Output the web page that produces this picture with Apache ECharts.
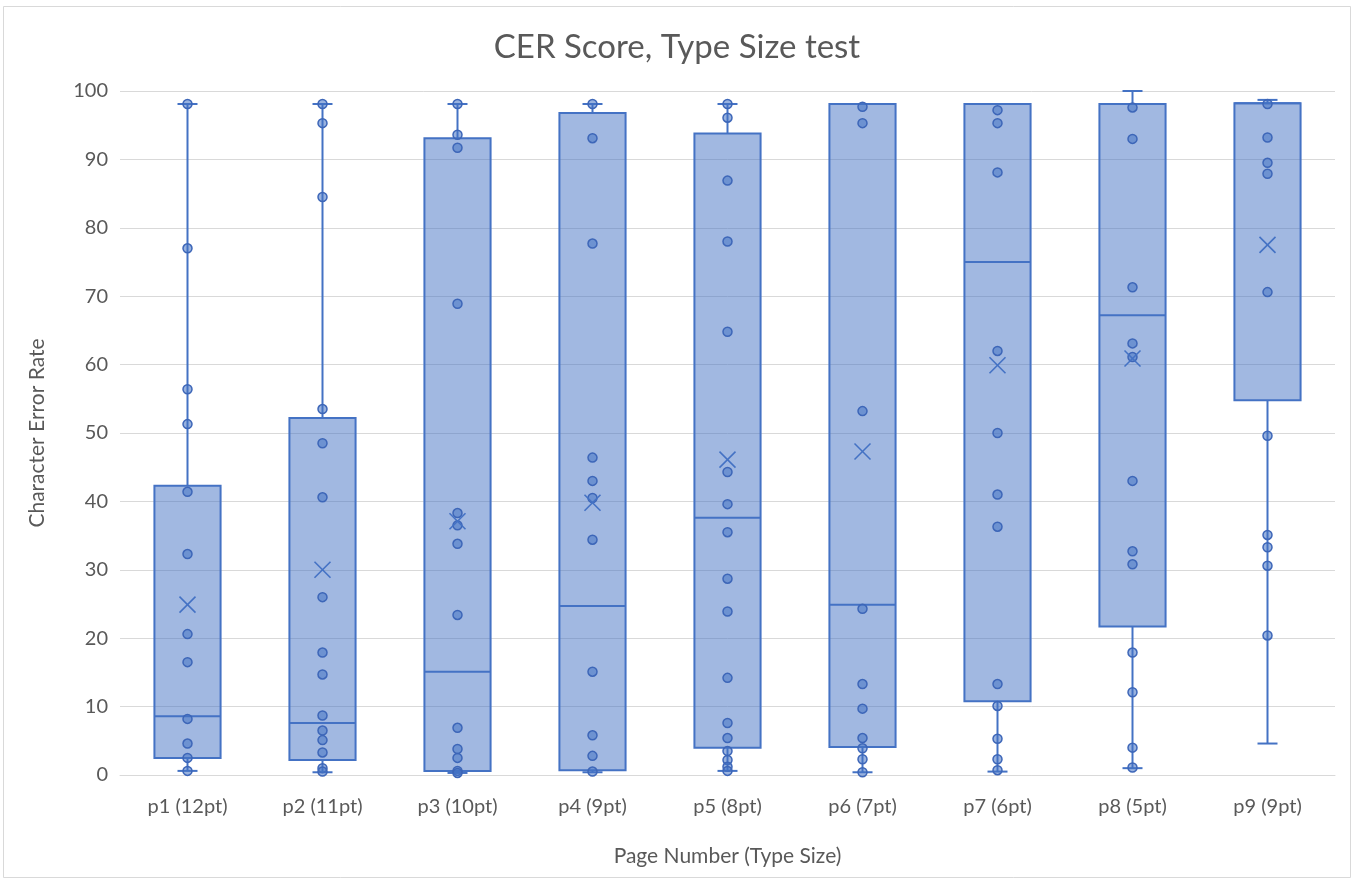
<!DOCTYPE html>
<html>
<head>
<meta charset="utf-8">
<title>CER Score, Type Size test</title>
<script src="https://cdn.jsdelivr.net/npm/echarts@6/dist/echarts.min.js"></script>
<style>
  html, body { margin: 0; padding: 0; background: #ffffff; }
  #chart { width: 1354px; height: 880px; }
</style>
</head>
<body>
<div id="chart"></div>
<script>
// Pages and their type sizes
const categories = ['p1 (12pt)', 'p2 (11pt)', 'p3 (10pt)', 'p4 (9pt)', 'p5 (8pt)', 'p6 (7pt)', 'p7 (6pt)', 'p8 (5pt)', 'p9 (9pt)'];

// Box-and-whisker statistics per page (character error rate, %)
const whiskerLow  = [0.6, 0.4, 0.3, 0.4, 0.6, 0.4, 0.5, 1.0, 4.6];
const quartile1   = [2.5, 2.2, 0.6, 0.7, 4.0, 4.1, 10.8, 21.7, 54.8];
const medians     = [8.6, 7.6, 15.1, 24.7, 37.6, 24.9, 75.0, 67.2, 98.2];
const quartile3   = [42.3, 52.2, 93.1, 96.8, 93.8, 98.1, 98.1, 98.1, 98.2];
const whiskerHigh = [98.1, 98.1, 98.1, 98.1, 98.1, 98.1, 98.1, 100.0, 98.7];
const means       = [24.9, 30.0, 37.1, 39.8, 46.1, 47.3, 59.9, 60.9, 77.5];

// Individual page scores
const p1Scores = [98.1, 77.0, 56.4, 51.3, 41.4, 32.3, 20.6, 16.5, 8.2, 4.6, 2.5, 0.6];
const p2Scores = [98.1, 95.3, 84.5, 53.5, 48.5, 40.6, 26.0, 17.9, 14.7, 8.7, 6.5, 5.1, 3.3, 1.0, 0.5];
const p3Scores = [98.1, 93.6, 91.7, 68.9, 38.3, 36.5, 33.8, 23.4, 6.9, 3.8, 2.5, 0.6, 0.3];
const p4Scores = [98.1, 93.1, 77.7, 46.4, 43.0, 40.5, 34.4, 15.1, 5.8, 2.8, 0.5];
const p5Scores = [98.1, 96.1, 86.9, 78.0, 64.8, 44.3, 39.6, 35.5, 28.7, 23.9, 14.2, 7.6, 5.4, 3.5, 2.2, 1.2, 0.6];
const p6Scores = [97.7, 95.3, 53.2, 24.3, 13.3, 9.7, 5.4, 3.9, 2.3, 0.4];
const p7Scores = [97.2, 95.3, 88.1, 62.0, 50.0, 41.0, 36.3, 13.3, 10.1, 5.3, 2.3, 0.7];
const p8Scores = [97.6, 93.0, 71.3, 63.1, 61.1, 43.0, 32.7, 30.8, 17.9, 12.1, 4.0, 1.1];
const p9Scores = [98.1, 93.2, 89.5, 87.9, 70.6, 49.6, 35.1, 33.3, 30.6, 20.4];

const pageScores = [p1Scores, p2Scores, p3Scores, p4Scores, p5Scores, p6Scores, p7Scores, p8Scores, p9Scores];

const yTicks = { min: 0, max: 100, interval: 10 };

const BLUE = '#4472C4';
const TEXT = '#595959';
const FONT = 'Lato, "Open Sans", sans-serif';

const boxData = categories.map((c, i) => [i, whiskerLow[i], quartile1[i], medians[i], quartile3[i], whiskerHigh[i]]);
const meanData = categories.map((c, i) => [i, means[i]]);
const pointData = [];
pageScores.forEach((arr, i) => arr.forEach(v => pointData.push([i, v])));

const chart = echarts.init(document.getElementById('chart'), null, { renderer: 'canvas' });

// Box, whiskers, caps and median line for one page
function renderBox(params, api) {
  const idx = api.value(0);
  const band = api.size([1, 0])[0];
  const boxW = band * 0.49;
  const capW = 20;
  const [x, yLow] = api.coord([idx, api.value(1)]);
  const yQ1 = api.coord([idx, api.value(2)])[1];
  const yMed = api.coord([idx, api.value(3)])[1];
  const yQ3 = api.coord([idx, api.value(4)])[1];
  const yHigh = api.coord([idx, api.value(5)])[1];
  const lineStyle = { stroke: BLUE, lineWidth: 2, fill: null };
  return {
    type: 'group',
    children: [
      { type: 'line', shape: { x1: x, y1: yLow, x2: x, y2: yQ1 }, style: lineStyle },
      { type: 'line', shape: { x1: x, y1: yQ3, x2: x, y2: yHigh }, style: lineStyle },
      { type: 'line', shape: { x1: x - capW / 2, y1: yLow, x2: x + capW / 2, y2: yLow }, style: lineStyle },
      { type: 'line', shape: { x1: x - capW / 2, y1: yHigh, x2: x + capW / 2, y2: yHigh }, style: lineStyle },
      { type: 'rect', shape: { x: x - boxW / 2, y: yQ3, width: boxW, height: yQ1 - yQ3 },
        style: { fill: 'rgba(68,114,196,0.5)', stroke: BLUE, lineWidth: 2 } },
      { type: 'line', shape: { x1: x - boxW / 2, y1: yMed, x2: x + boxW / 2, y2: yMed }, style: lineStyle }
    ]
  };
}

// Mean marker drawn as an X
function renderMean(params, api) {
  const [x, y] = api.coord([api.value(0), api.value(1)]);
  const h = 8;
  const st = { stroke: BLUE, lineWidth: 1.6, fill: null };
  return {
    type: 'group',
    children: [
      { type: 'line', shape: { x1: x - h, y1: y - h, x2: x + h, y2: y + h }, style: st },
      { type: 'line', shape: { x1: x - h, y1: y + h, x2: x + h, y2: y - h }, style: st }
    ]
  };
}

chart.setOption({
  backgroundColor: '#ffffff',
  animation: false,
  title: {
    text: 'CER Score, Type Size test',
    left: 'center',
    top: 26,
    textStyle: { fontFamily: FONT, fontSize: 33, fontWeight: 'normal', color: TEXT }
  },
  graphic: [{
    type: 'rect',
    shape: { x: 3.5, y: 6.5, width: 1347, height: 871 },
    style: { fill: null, stroke: '#d9d9d9', lineWidth: 1 },
    silent: true, z: -10
  }],
  grid: { left: 120, right: 19, top: 91, bottom: 105 },
  xAxis: {
    type: 'category',
    data: categories,
    name: 'Page Number (Type Size)',
    nameLocation: 'middle',
    nameGap: 71,
    nameTextStyle: { fontFamily: FONT, fontSize: 21, color: TEXT },
    axisLine: { lineStyle: { color: '#d9d9d9', width: 1 } },
    axisTick: { show: false },
    axisLabel: { fontFamily: FONT, fontSize: 20, color: TEXT, margin: 22 },
    splitLine: { show: false }
  },
  yAxis: {
    type: 'value',
    min: yTicks.min,
    max: yTicks.max,
    interval: yTicks.interval,
    name: 'Character Error Rate',
    nameLocation: 'middle',
    nameGap: 72,
    nameRotate: 90,
    nameTextStyle: { fontFamily: FONT, fontSize: 21, color: TEXT },
    axisLine: { show: false },
    axisTick: { show: false },
    axisLabel: { fontFamily: FONT, fontSize: 20, color: TEXT, margin: 12 },
    splitLine: { lineStyle: { color: '#d9d9d9', width: 1 } }
  },
  series: [
    {
      name: 'box',
      type: 'custom',
      renderItem: renderBox,
      data: boxData,
      encode: { x: 0, y: [1, 2, 3, 4, 5] },
      z: 2
    },
    {
      name: 'scores',
      type: 'scatter',
      data: pointData,
      symbol: 'circle',
      symbolSize: 9,
      itemStyle: { color: 'rgba(68,114,196,0.55)', borderColor: '#3d66b8', borderWidth: 1.5, opacity: 1 },
      z: 3
    },
    {
      name: 'mean',
      type: 'custom',
      renderItem: renderMean,
      data: meanData,
      encode: { x: 0, y: 1 },
      z: 4
    }
  ]
});
</script>
</body>
</html>
